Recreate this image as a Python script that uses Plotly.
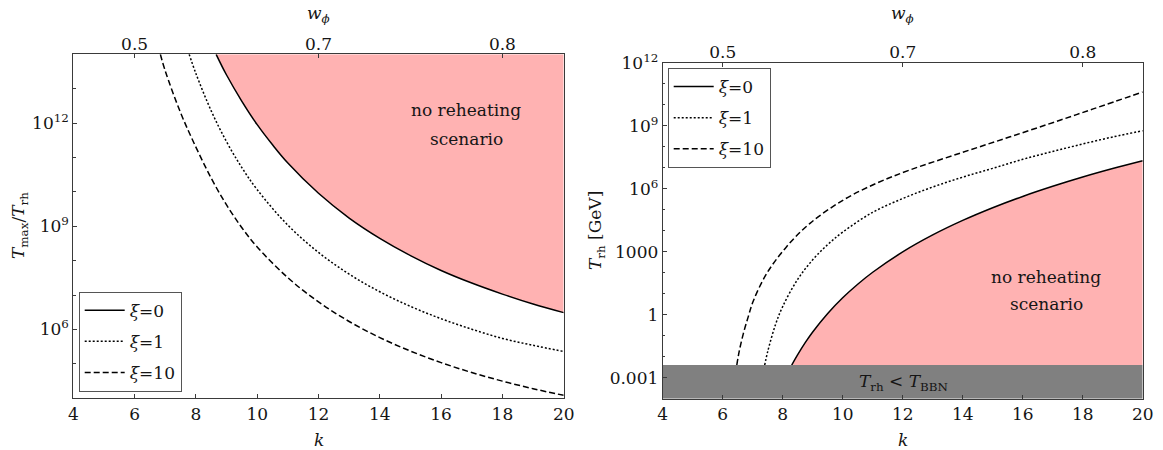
import plotly.graph_objects as go

# ---- data -------------------------------------------------------------
# left panel: T_max / T_rh versus k for three couplings xi
K_RATIO_XI0 = [8.66, 9.0, 9.5, 10.0, 10.5, 11.0, 12.0, 13.0, 14.0, 15.0, 16.0, 17.0, 18.0, 19.0, 20.0]
RATIO_XI0 = [1.0e14, 2.5e13, 4.3e12, 9.0e11, 2.34e11, 6.9e10, 9.1e9, 1.74e9, 4.47e8,
             1.41e8, 5.2e7, 2.24e7, 1.07e7, 5.5e6, 3.09e6]

K_RATIO_XI1 = [7.78, 8.0, 8.5, 9.0, 9.5, 10.0, 11.0, 12.0, 13.0, 14.0, 15.0, 16.0, 17.0, 18.0, 19.0, 20.0]
RATIO_XI1 = [1.0e14, 2.77e13, 2.26e12, 2.87e11, 5.07e10, 1.16e10, 1.08e9, 1.74e8, 4.07e7,
             1.25e7, 4.7e6, 2.06e6, 1.02e6, 5.5e5, 3.47e5, 2.29e5]

K_RATIO_XI10 = [6.84, 7.0, 7.5, 8.0, 8.5, 9.0, 9.5, 10.0, 11.0, 12.0, 13.0, 14.0, 15.0, 16.0, 17.0, 18.0, 19.0, 20.0]
RATIO_XI10 = [1.0e14, 3.28e13, 2.0e12, 2.0e11, 2.5e10, 4.17e9, 9.1e8, 2.5e8, 3.2e7, 6.34e6,
              1.71e6, 5.82e5, 2.36e5, 1.09e5, 5.62e4, 3.16e4, 1.9e4, 1.22e4]

# right panel: reheating temperature in GeV versus k
K_TRH_XI0 = [8.30, 8.5, 8.75, 9.0, 9.5, 10.0, 10.5, 11.0, 12.0, 13.0, 14.0, 15.0, 16.0, 17.0, 18.0, 19.0, 20.0]
TRH_XI0 = [4.0e-3, 1.26e-2, 4.68e-2, 0.151, 1.15, 6.4, 28.3, 105.0, 977.0, 6.27e3, 3.08e4,
           1.24e5, 4.29e5, 1.30e6, 3.59e6, 9.08e6, 2.14e7]

K_TRH_XI1 = [7.40, 7.5, 7.75, 8.0, 8.5, 9.0, 9.5, 10.0, 11.0, 12.0, 13.0, 14.0, 15.0, 16.0, 17.0, 18.0, 19.0, 20.0]
TRH_XI1 = [4.0e-3, 1.75e-2, 0.308, 2.46, 48.4, 410.0, 2.18e3, 8.55e3, 7.5e4, 3.4e5, 1.2e6,
           3.55e6, 9.3e6, 2.5e7, 5.9e7, 1.35e8, 2.9e8, 5.75e8]

K_TRH_XI10 = [6.47, 6.55, 6.69, 6.85, 7.02, 7.47, 8.13, 8.91, 10.02, 11.13, 12.24, 13.91, 15.58, 17.24, 18.35, 20.0]
TRH_XI10 = [4.0e-3, 1.8e-2, 0.129, 0.79, 4.5, 93.0, 1.74e3, 2.24e4, 2.9e5, 1.82e6, 7.8e6,
            4.9e7, 2.95e8, 1.82e9, 6.3e9, 4.0e10]

T_BBN = 4.0e-3  # GeV

XI_LABELS = ["<i>ξ</i>=0", "<i>ξ</i>=1", "<i>ξ</i>=10"]
LINE_DASHES = ["solid", "2px,2px", "6px,3px"]

K_RANGE = [4, 20]
K_TICKS = [4, 6, 8, 10, 12, 14, 16, 18, 20]
W_TICK_K = [6, 12, 18]
W_TICK_TEXT = ["0.5", "0.7", "0.8"]

RATIO_TICKS = [1e6, 1e9, 1e12]
RATIO_TICK_TEXT = ["10<sup>6</sup>", "10<sup>9</sup>", "10<sup>12</sup>"]
RATIO_MINOR = [1e5, 1e7, 1e8, 1e10, 1e11, 1e13]

TRH_TICKS = [1e-3, 1, 1e3, 1e6, 1e9, 1e12]
TRH_TICK_TEXT = ["0.001", "1", "1000", "10<sup>6</sup>", "10<sup>9</sup>", "10<sup>12</sup>"]
TRH_MINOR = [1e-2, 1e-1, 10, 100, 1e4, 1e5, 1e7, 1e8, 1e10, 1e11]

# ---- style ------------------------------------------------------------
FONT = "DejaVu Serif"
FS = 17
INK = "#151515"
FRAME = "#3a3a3a"
PINK = "rgb(255,178,178)"
GREY = "rgb(128,128,128)"
W, H = 1163, 450
SPLINE = dict(shape="spline", smoothing=1.0)


def px(x):
    return x / W


def py(y):
    return 1 - y / H


fig = go.Figure()

# left panel: excluded region above the xi=0 curve
fig.add_trace(go.Scatter(x=[K_RATIO_XI0[0], K_RANGE[1]], y=[RATIO_XI0[0], RATIO_XI0[0]],
                         mode="lines", line=dict(width=0, color=PINK),
                         showlegend=False, hoverinfo="skip", xaxis="x", yaxis="y"))
fig.add_trace(go.Scatter(x=K_RATIO_XI0, y=RATIO_XI0, mode="lines",
                         line=dict(width=0, color=PINK, **SPLINE),
                         fill="tonexty", fillcolor=PINK,
                         showlegend=False, hoverinfo="skip", xaxis="x", yaxis="y"))

# right panel: excluded region between T_BBN and the xi=0 curve
fig.add_trace(go.Scatter(x=[K_TRH_XI0[0], K_RANGE[1]], y=[T_BBN, T_BBN],
                         mode="lines", line=dict(width=0, color=PINK),
                         showlegend=False, hoverinfo="skip", xaxis="x2", yaxis="y2"))
fig.add_trace(go.Scatter(x=K_TRH_XI0, y=TRH_XI0, mode="lines",
                         line=dict(width=0, color=PINK, **SPLINE),
                         fill="tonexty", fillcolor=PINK,
                         showlegend=False, hoverinfo="skip", xaxis="x2", yaxis="y2"))

left_sets = [(K_RATIO_XI0, RATIO_XI0), (K_RATIO_XI1, RATIO_XI1), (K_RATIO_XI10, RATIO_XI10)]
for i, (kk, vv) in enumerate(left_sets):
    fig.add_trace(go.Scatter(
        x=kk, y=vv, mode="lines",
        line=dict(color="black", width=1.5, dash=LINE_DASHES[i], **SPLINE),
        name=XI_LABELS[i], legend="legend", legendgroup=f"l{i}",
        xaxis="x", yaxis="y"))

right_sets = [(K_TRH_XI0, TRH_XI0), (K_TRH_XI1, TRH_XI1), (K_TRH_XI10, TRH_XI10)]
for i, (kk, vv) in enumerate(right_sets):
    fig.add_trace(go.Scatter(
        x=kk, y=vv, mode="lines",
        line=dict(color="black", width=1.5, dash=LINE_DASHES[i], **SPLINE),
        name=XI_LABELS[i], legend="legend2", legendgroup=f"r{i}",
        xaxis="x2", yaxis="y2"))

# BBN exclusion band
fig.add_trace(go.Scatter(x=[K_RANGE[0], K_RANGE[1], K_RANGE[1], K_RANGE[0]],
                         y=[1e-4, 1e-4, T_BBN, T_BBN], mode="lines", fill="toself",
                         fillcolor=GREY, line=dict(width=0, color=GREY),
                         showlegend=False, hoverinfo="skip", xaxis="x2", yaxis="y2"))

# carriers for the equation-of-state axes along the top edges
fig.add_trace(go.Scatter(x=K_RANGE, y=[1e8, 1e8], mode="lines", opacity=0,
                         line=dict(width=0), showlegend=False, hoverinfo="skip",
                         xaxis="x3", yaxis="y"))
fig.add_trace(go.Scatter(x=K_RANGE, y=[1.0, 1.0], mode="lines", opacity=0,
                         line=dict(width=0), showlegend=False, hoverinfo="skip",
                         xaxis="x4", yaxis="y2"))

tickfont = dict(family=FONT, size=FS, color=INK)


def kaxis(domain, anchor):
    return dict(domain=domain, anchor=anchor, range=K_RANGE, tickmode="array",
                tickvals=K_TICKS, ticktext=[str(v) for v in K_TICKS],
                ticks="inside", ticklen=4, tickcolor=FRAME, tickwidth=1,
                showline=True, linecolor=FRAME, linewidth=1, mirror=True,
                showgrid=False, zeroline=False, tickfont=tickfont, automargin=False)


def waxis(overlay, anchor):
    return dict(overlaying=overlay, anchor=anchor, side="top", range=K_RANGE,
                tickmode="array", tickvals=W_TICK_K, ticktext=W_TICK_TEXT,
                ticks="inside", ticklen=4, tickcolor=FRAME, tickwidth=1,
                showline=False, showgrid=False, zeroline=False, tickfont=tickfont,
                automargin=False)


def logaxis(domain, anchor, rng, vals, text, minor):
    return dict(domain=domain, anchor=anchor, type="log", range=rng,
                tickmode="array", tickvals=vals, ticktext=text,
                ticks="inside", ticklen=4, tickcolor=FRAME, tickwidth=1,
                minor=dict(tickmode="array", tickvals=minor, ticks="inside",
                           ticklen=2.5, tickcolor=FRAME, showgrid=False),
                showline=True, linecolor=FRAME, linewidth=1, mirror=True,
                showgrid=False, zeroline=False, tickfont=tickfont, automargin=False)


xl = [px(73.3), px(563.7)]
xr = [px(662.7), px(1142.7)]
yl = [py(398.3), py(54.3)]
yr = [py(398.7), py(62.7)]

legend_style = dict(font=dict(family=FONT, size=FS, color=INK), bgcolor="white",
                    bordercolor="#555555", borderwidth=1, tracegroupgap=6,
                    xanchor="left", yanchor="top", itemwidth=40)

fig.update_layout(
    width=W, height=H, margin=dict(l=0, r=0, t=0, b=0, pad=0, autoexpand=False),
    paper_bgcolor="white", plot_bgcolor="white",
    font=dict(family=FONT, size=FS, color=INK),
    xaxis=kaxis(xl, "y"),
    yaxis=logaxis(yl, "x", [4, 14], RATIO_TICKS, RATIO_TICK_TEXT, RATIO_MINOR),
    xaxis2=kaxis(xr, "y2"),
    yaxis2=logaxis(yr, "x2", [-4, 12], TRH_TICKS, TRH_TICK_TEXT, TRH_MINOR),
    xaxis3=waxis("x", "y"),
    xaxis4=waxis("x2", "y2"),
    legend=dict(x=px(78.7), y=py(291.7), **legend_style),
    legend2=dict(x=px(667.7), y=py(68), **legend_style),
    showlegend=True,
)


def note(text, x, y, **kw):
    fig.add_annotation(text=text, x=px(x), y=py(y), xref="paper", yref="paper",
                       showarrow=False, xanchor="center", yanchor="middle",
                       font=dict(family=FONT, size=FS, color=INK), **kw)


# axis titles
note("<i>k</i>", 318.5, 440)
note("<i>k</i>", 902.7, 440)
note("<i>w</i><sub><i>ϕ</i></sub>", 318.5, 15)
note("<i>w</i><sub><i>ϕ</i></sub>", 902.7, 15)
note("<i>T</i><sub>max</sub>/<i>T</i><sub>rh</sub>", 19, 226, textangle=-90)
note("<i>T</i><sub>rh</sub> [GeV]", 596, 231, textangle=-90)

# region labels
note("no reheating", 466, 110)
note("scenario", 466, 139)
note("no reheating", 1046, 277)
note("scenario", 1046, 304)
note("<i>T</i><sub>rh</sub> &lt; <i>T</i><sub>BBN</sub>", 903, 382)

fig.write_html("out.html")
